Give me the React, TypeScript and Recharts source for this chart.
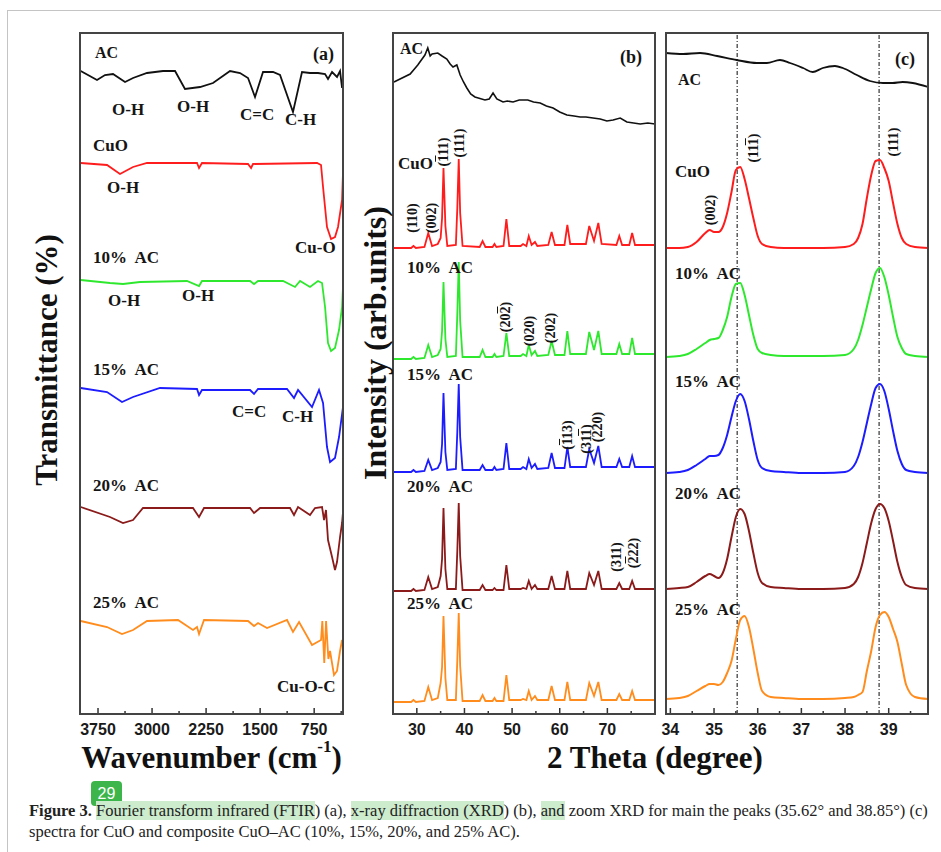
import React from "react";
import { LineChart, Line, XAxis, YAxis, ReferenceLine } from "recharts";

// ---------- panel (a): FTIR, [wavenumber, transmittance relative to trace baseline] ----------
const ftirAC = [[3990, 0], [3764, -9], [3653, -4], [3542, -3], [3375, -11], [3264, -7], [3070, -2], [2848, 0], [2681, 0], [2543, -18], [2334, -16], [2154, -12], [1918, 0], [1779, -2], [1668, -7], [1571, -26], [1460, -1], [1321, -1], [1224, -4], [1044, -41], [919, -1], [808, -2], [697, -2], [599, -3], [558, -8], [502, -1], [433, -6], [391, 0], [363, -17]];
const ftirCuO = [[3990, 0], [3625, -2], [3445, -11], [3264, -4], [3070, 0], [2376, 0], [2348, -5], [2307, 0], [1668, -1], [1626, -5], [1599, -1], [710, 0], [655, -2], [627, -24], [572, -64], [516, -76], [461, -74], [419, -64], [363, -37], [350, -10]];
const ftir10 = [[3990, 0], [3584, -3], [3403, -4], [3167, -2], [2515, -1], [2348, -6], [2307, -1], [1640, -1], [1585, -4], [1529, -1], [1182, -1], [1016, -7], [946, -1], [808, -7], [697, -1], [641, -3], [599, -27], [558, -63], [516, -71], [461, -68], [405, -50], [363, -27], [350, -7]];
const ftir15 = [[3990, 0], [3625, -4], [3417, -14], [3264, -9], [2890, 0], [2376, -1], [2348, -7], [2307, -2], [1640, -2], [1585, -6], [1529, -1], [1127, -1], [1030, -10], [974, -2], [780, -19], [683, -2], [627, -15], [572, -59], [530, -74], [461, -70], [405, -49], [350, -19]];
const ftir20 = [[3990, 0], [3584, -10], [3403, -16], [3264, -13], [3126, -1], [2432, -1], [2348, -10], [2279, -1], [1640, -1], [1585, -6], [1501, -1], [1085, -1], [1030, -8], [974, 0], [808, -8], [738, -1], [641, 0], [613, -13], [586, -3], [558, -33], [502, -50], [461, -63], [433, -55], [391, -30], [363, -16], [350, -5]];
const ftir25 = [[3990, 0], [3625, -6], [3417, -13], [3264, -9], [3070, 0], [2640, 1], [2432, -9], [2376, -6], [2348, -13], [2279, 1], [1668, 0], [1585, -5], [1529, -2], [1404, -7], [1127, 1], [1044, -11], [960, -1], [780, -24], [655, -19], [637, 0], [610, -42], [585, 0], [553, -38], [530, -30], [475, -54], [433, -50], [391, -30], [363, -19]];
const ftirOffsets = [643, 551, 434, 326, 207, 93];
const ftirTicks = [3750, 3375, 3000, 2625, 2250, 1875, 1500, 1125, 750, 375];
const ftirMajor = [3750, 3000, 2250, 1500, 750];

// ---------- panel (b): XRD ----------
const xrdAC = [[25.2, 42], [28.6, 50], [30.2, 59], [31.7, 69], [32.3, 76], [32.8, 68], [33.2, 70], [34.4, 71], [35.3, 68], [36.3, 65], [37.0, 60], [37.6, 57], [38.4, 59], [39.1, 49], [39.8, 42], [40.5, 36], [41.3, 30], [42.2, 27], [44.3, 24], [45.2, 25], [46.0, 31], [46.8, 25], [48.1, 22], [49.0, 23], [50.2, 22], [51.5, 24], [53.3, 24], [54.5, 22], [55.9, 21], [57.2, 18], [58.6, 16], [60.0, 12], [61.5, 9], [63.0, 8], [64.3, 7], [65.5, 7], [67.0, 6], [68.5, 5], [69.9, 3], [71.2, 4], [72.7, 6], [74.1, 2], [75.5, 1], [76.9, 0], [78.5, 1], [80, 0]];
const xrdAngles = [25, 28.8, 29.3, 29.8, 31.6, 32.4, 33.2, 34.4, 35.0, 35.3, 35.6, 36.0, 36.4, 38.2, 38.5, 38.8, 39.1, 39.6, 43.2, 43.8, 44.4, 45.9, 46.3, 46.7, 48.2, 48.8, 49.4, 51.8, 52.3, 53.0, 53.5, 54.1, 54.8, 55.3, 57.6, 58.3, 59.0, 61.0, 61.6, 62.2, 65.5, 66.2, 67.2, 68.1, 68.8, 71.9, 72.5, 73.1, 74.6, 75.2, 75.8, 80];
const xrdCuO = [0, 0, 2, 0, 1, 15, 2, 4, 10, 30, 80, 22, 2, 3, 40, 89, 35, 2, 1, 7, 1, 1, 4, 1, 2, 29, 2, 2, 4, 2, 12, 3, 6, 2, 3, 16, 3, 3, 23, 4, 4, 22, 7, 25, 4, 3, 12, 3, 3, 15, 3, 3];
const xrd10 = [0, 0, 2, 0, 1, 14, 2, 4, 10, 28, 77, 20, 2, 3, 45, 97, 38, 2, 2, 9, 2, 2, 5, 2, 3, 26, 3, 3, 5, 3, 14, 4, 8, 3, 4, 18, 4, 4, 28, 5, 5, 27, 9, 28, 5, 5, 15, 5, 5, 21, 5, 5];
const xrd15 = [0, 0, 2, 0, 1, 12, 2, 4, 10, 28, 79, 20, 2, 3, 40, 88, 35, 2, 2, 7, 2, 2, 5, 2, 3, 29, 3, 3, 5, 3, 13, 4, 8, 3, 4, 19, 4, 4, 25, 5, 5, 23, 9, 26, 5, 5, 13, 5, 5, 16, 5, 5];
const xrd20 = [0, 0, 2, 0, 1, 14, 2, 4, 15, 32, 83, 22, 2, 2, 40, 88, 35, 1, 1, 6, 1, 1, 3, 1, 1, 26, 2, 2, 3, 2, 10, 2, 6, 2, 2, 15, 2, 2, 20, 2, 2, 18, 6, 20, 2, 2, 8, 2, 2, 10, 2, 2];
const xrd25 = [0, 0, 2, 0, 1, 15, 2, 4, 19, 35, 86, 24, 2, 2, 42, 89, 36, 1, 1, 7, 1, 1, 4, 1, 1, 27, 2, 2, 3, 2, 11, 2, 6, 2, 2, 16, 2, 2, 20, 2, 2, 19, 6, 20, 2, 2, 8, 2, 2, 11, 2, 2];
const xrdOffsets = [590, 466, 355, 242, 123, 12];
const xrdTicks = [30, 35, 40, 45, 50, 55, 60, 65, 70, 75];
const xrdMajor = [30, 40, 50, 60, 70];

// ---------- panel (c): zoomed XRD ----------
const zoomAC = [[33.9, 34], [34.29, 33], [34.68, 34], [35.07, 31], [35.52, 27], [35.98, 24], [36.21, 24], [36.51, 27], [36.74, 24], [37.04, 19], [37.26, 15], [37.49, 19], [37.77, 21], [37.95, 19], [38.27, 12], [38.57, 6], [38.87, 4], [39.09, 4], [39.32, 5], [39.55, 4], [39.9, 0]];
const zoomAngles = [33.9, 34.2, 34.4, 34.6, 34.8, 34.9, 35.0, 35.1, 35.2, 35.3, 35.4, 35.5, 35.6, 35.7, 35.8, 35.9, 36.0, 36.1, 36.3, 36.6, 37.0, 37.5, 38.0, 38.2, 38.3, 38.4, 38.5, 38.6, 38.7, 38.8, 38.9, 39.0, 39.1, 39.2, 39.3, 39.4, 39.6, 39.9];
const zoomCuO = [0, 0, 1, 6, 15, 18, 16, 16, 21, 35, 56, 78, 81, 69, 50, 30, 12, 4, 1, 0, 0, 0, 1, 4, 10, 24, 50, 73, 87, 88, 80, 67, 45, 24, 10, 4, 1, 0];
const zoom10 = [0, 1, 3, 8, 14, 17, 18, 19, 27, 40, 60, 73, 74, 62, 42, 22, 8, 4, 2, 1, 1, 1, 2, 8, 17, 32, 50, 68, 84, 89, 80, 62, 40, 20, 9, 3, 1, 0];
const zoom15 = [0, 1, 3, 8, 14, 17, 17, 18, 25, 38, 56, 72, 79, 72, 54, 32, 13, 5, 2, 1, 0, 0, 1, 7, 16, 31, 50, 69, 85, 89, 82, 64, 42, 22, 9, 3, 1, 0];
const zoom20 = [0, 1, 2, 7, 13, 15, 13, 11, 16, 30, 52, 72, 80, 75, 58, 36, 16, 6, 2, 1, 0, 0, 1, 5, 12, 26, 46, 66, 80, 85, 81, 68, 48, 27, 12, 4, 1, 0];
const zoom25 = [0, 1, 3, 8, 13, 15, 15, 14, 17, 26, 38, 60, 79, 83, 72, 50, 26, 8, 2, 1, 0, 0, 1, 2, 4, 7, 28, 48, 72, 84, 87, 82, 70, 57, 35, 14, 2, 0];
const zoomOffsets = [627, 466, 357, 241, 125, 15];
const zoomTicks = [34, 34.5, 35, 35.5, 36, 36.5, 37, 37.5, 38, 38.5, 39, 39.5];
const zoomMajor = [34, 35, 36, 37, 38, 39];
const peakLines = [35.53, 38.78];

const colors = ["#111111", "#ff1c1c", "#2ee82e", "#1c1cff", "#8b1a1a", "#ff8c1c"];
const sampleKeys = ["cuo", "p10", "p15", "p20", "p25"];

const serif = '"Liberation Serif", "Times New Roman", serif';
const sans = '"Liberation Sans", Arial, sans-serif';

const ftirData = [ftirAC, ftirCuO, ftir10, ftir15, ftir20, ftir25].map((s, i) =>
  s.map(([x, v]) => ({ x, y: v + ftirOffsets[i] }))
);
const xrdSeries = [xrdCuO, xrd10, xrd15, xrd20, xrd25];
const xrdRows = xrdAngles.map((t, j) => {
  const row: any = { x: t };
  xrdSeries.forEach((s, i) => (row[sampleKeys[i]] = s[j] + xrdOffsets[i + 1]));
  return row;
});
const xrdACData = xrdAC.map(([x, v]) => ({ x, y: v + xrdOffsets[0] }));
const zoomSeries = [zoomCuO, zoom10, zoom15, zoom20, zoom25];
const zoomRows = zoomAngles.map((t, j) => {
  const row: any = { x: t };
  zoomSeries.forEach((s, i) => (row[sampleKeys[i]] = s[j] + zoomOffsets[i + 1]));
  return row;
});
const zoomACData = zoomAC.map(([x, v]) => ({ x, y: v + zoomOffsets[0] }));

const TOP = 33;
const PH = 681;

// inward tick marks, labels only on the major ones
const makeTick = (majors: number[]) => (props: any) => {
  const { x, y, payload } = props;
  const major = majors.includes(payload.value);
  return (
    <g>
      <line x1={x} x2={x} y1={y} y2={y - (major ? 6 : 3)} stroke="#333" strokeWidth={1.5} />
      {major && (
        <text x={x} y={y + 21} textAnchor="middle" fontFamily={sans} fontWeight="bold" fontSize={16} fill="#1a1a1a">
          {payload.value}
        </text>
      )}
    </g>
  );
};

const Lbl = ({ x, cy, size = 17, children }: any) => (
  <div style={{ position: "absolute", left: x, top: cy - size * 0.5, fontSize: size, lineHeight: 1, fontWeight: "bold", fontFamily: serif, whiteSpace: "nowrap", color: "#151515" }}>
    {children}
  </div>
);

const RLbl = ({ cx, cy, size = 14, children }: any) => (
  <div style={{ position: "absolute", left: cx, top: cy, transform: "translate(-50%,-50%) rotate(-90deg)", fontSize: size, lineHeight: 1, fontWeight: "bold", fontFamily: serif, whiteSpace: "nowrap", color: "#151515" }}>
    {children}
  </div>
);

const Bar1 = ({ children }: any) => <span style={{ textDecoration: "overline" }}>{children}</span>;

const Box = ({ left, width }: any) => (
  <div style={{ position: "absolute", left: left - 1, top: TOP - 1, width: width + 2, height: PH + 2, border: "2px solid #444", boxSizing: "border-box", pointerEvents: "none" }} />
);

const hl = { background: "#cdeccd" };

export default function App() {
  return (
    <div style={{ position: "absolute", left: 0, top: 0, width: 941, height: 852, background: "#fff", overflow: "hidden" }}>
      <style>{`.recharts-surface{overflow:visible}`}</style>
      <div style={{ position: "absolute", left: 7, top: 10, width: 934, height: 842, borderTop: "1.5px solid #c4c4c4", borderLeft: "1.5px solid #c4c4c4" }} />

      {/* (a) FTIR */}
      <div style={{ position: "absolute", left: 80, top: TOP }}>
        <LineChart width={263} height={PH + 30} margin={{ top: 0, right: 0, bottom: 0, left: 0 }}>
          <XAxis type="number" dataKey="x" domain={[350, 4000]} reversed allowDataOverflow ticks={ftirTicks} interval={0} tickSize={0} tickMargin={0} axisLine={false} height={30} tick={makeTick(ftirMajor)} />
          <YAxis hide type="number" domain={[0, PH]} allowDataOverflow />
          {ftirData.map((d, i) => (
            <Line key={i} data={d} dataKey="y" type="linear" stroke={colors[i]} strokeWidth={1.8} dot={false} isAnimationActive={false} />
          ))}
        </LineChart>
      </div>
      <Box left={80} width={263} />

      {/* (b) XRD */}
      <div style={{ position: "absolute", left: 393, top: TOP }}>
        <LineChart width={262} height={PH + 30} data={xrdRows} margin={{ top: 0, right: 0, bottom: 0, left: 0 }}>
          <XAxis type="number" dataKey="x" domain={[25, 80]} allowDataOverflow ticks={xrdTicks} interval={0} tickSize={0} tickMargin={0} axisLine={false} height={30} tick={makeTick(xrdMajor)} />
          <YAxis hide type="number" domain={[0, PH]} allowDataOverflow />
          <Line data={xrdACData} dataKey="y" type="linear" stroke={colors[0]} strokeWidth={1.6} dot={false} isAnimationActive={false} />
          {sampleKeys.map((k, i) => (
            <Line key={k} dataKey={k} type="linear" stroke={colors[i + 1]} strokeWidth={1.8} dot={false} isAnimationActive={false} />
          ))}
        </LineChart>
      </div>
      <Box left={393} width={262} />

      {/* (c) zoom XRD */}
      <div style={{ position: "absolute", left: 666, top: TOP }}>
        <LineChart width={262} height={PH + 30} data={zoomRows} margin={{ top: 0, right: 0, bottom: 0, left: 0 }}>
          <XAxis type="number" dataKey="x" domain={[33.9, 39.9]} allowDataOverflow ticks={zoomTicks} interval={0} tickSize={0} tickMargin={0} axisLine={false} height={30} tick={makeTick(zoomMajor)} />
          <YAxis hide type="number" domain={[0, PH]} allowDataOverflow />
          {peakLines.map((p) => (
            <ReferenceLine key={p} x={p} stroke="#333" strokeWidth={1.2} strokeDasharray="4 2 1 2" />
          ))}
          <Line data={zoomACData} dataKey="y" type="monotone" stroke={colors[0]} strokeWidth={1.8} dot={false} isAnimationActive={false} />
          {sampleKeys.map((k, i) => (
            <Line key={k} dataKey={k} type="monotone" stroke={colors[i + 1]} strokeWidth={2} dot={false} isAnimationActive={false} />
          ))}
        </LineChart>
      </div>
      <Box left={666} width={262} />

      {/* panel (a) annotations */}
      <Lbl x={95} cy={53} size={16}>AC</Lbl>
      <Lbl x={313} cy={54} size={18}>(a)</Lbl>
      <Lbl x={112} cy={109}>O-H</Lbl>
      <Lbl x={177} cy={106}>O-H</Lbl>
      <Lbl x={240} cy={114}>C=C</Lbl>
      <Lbl x={285} cy={119}>C-H</Lbl>
      <Lbl x={93} cy={145}>CuO</Lbl>
      <Lbl x={107} cy={187}>O-H</Lbl>
      <Lbl x={295} cy={247}>Cu-O</Lbl>
      <Lbl x={93} cy={257}>10%&nbsp; AC</Lbl>
      <Lbl x={108} cy={300}>O-H</Lbl>
      <Lbl x={182} cy={295}>O-H</Lbl>
      <Lbl x={93} cy={369}>15%&nbsp; AC</Lbl>
      <Lbl x={232} cy={411}>C=C</Lbl>
      <Lbl x={282} cy={416}>C-H</Lbl>
      <Lbl x={93} cy={485}>20%&nbsp; AC</Lbl>
      <Lbl x={93} cy={602}>25%&nbsp; AC</Lbl>
      <Lbl x={277} cy={686}>Cu-O-C</Lbl>

      {/* panel (b) annotations */}
      <Lbl x={400} cy={49} size={16}>AC</Lbl>
      <Lbl x={620} cy={57} size={18}>(b)</Lbl>
      <Lbl x={398} cy={163}>CuO</Lbl>
      <Lbl x={407} cy={267}>10%&nbsp; AC</Lbl>
      <Lbl x={407} cy={374}>15%&nbsp; AC</Lbl>
      <Lbl x={407} cy={486}>20%&nbsp; AC</Lbl>
      <Lbl x={407} cy={603}>25%&nbsp; AC</Lbl>
      <RLbl cx={413} cy={218}>(110)</RLbl>
      <RLbl cx={432} cy={218}>(002)</RLbl>
      <RLbl cx={444} cy={152}>(<Bar1>1</Bar1>11)</RLbl>
      <RLbl cx={460} cy={143}>(111)</RLbl>
      <RLbl cx={506} cy={317}>(20<Bar1>2</Bar1>)</RLbl>
      <RLbl cx={530} cy={331}>(020)</RLbl>
      <RLbl cx={551} cy={328}>(202)</RLbl>
      <RLbl cx={568} cy={435}>(<Bar1>1</Bar1>13)</RLbl>
      <RLbl cx={587} cy={439}>(31<Bar1>1</Bar1>)</RLbl>
      <RLbl cx={598} cy={427}>(220)</RLbl>
      <RLbl cx={617} cy={557}>(311)</RLbl>
      <RLbl cx={634} cy={553}>(<Bar1>2</Bar1>22)</RLbl>

      {/* panel (c) annotations */}
      <Lbl x={678} cy={80} size={16}>AC</Lbl>
      <Lbl x={895} cy={59} size={18}>(c)</Lbl>
      <Lbl x={675} cy={171}>CuO</Lbl>
      <Lbl x={675} cy={273}>10%&nbsp; AC</Lbl>
      <Lbl x={675} cy={381}>15%&nbsp; AC</Lbl>
      <Lbl x={675} cy={493}>20%&nbsp; AC</Lbl>
      <Lbl x={675} cy={609}>25%&nbsp; AC</Lbl>
      <RLbl cx={711} cy={210}>(002)</RLbl>
      <RLbl cx={754} cy={148}>(11<Bar1>1</Bar1>)</RLbl>
      <RLbl cx={894} cy={142}>(111)</RLbl>

      {/* axis titles */}
      <div style={{ position: "absolute", left: 46, top: 360, transform: "translate(-50%,-50%) rotate(-90deg)", fontFamily: serif, fontWeight: "bold", fontSize: 31, lineHeight: 1, whiteSpace: "nowrap", color: "#111" }}>
        Transmittance (%)
      </div>
      <div style={{ position: "absolute", left: 375, top: 343, transform: "translate(-50%,-50%) rotate(-90deg)", fontFamily: serif, fontWeight: "bold", fontSize: 32, lineHeight: 1, whiteSpace: "nowrap", color: "#111" }}>
        Intensity (arb.units)
      </div>
      <div style={{ position: "absolute", left: 60, width: 303, top: 742, textAlign: "center", fontFamily: serif, fontWeight: "bold", fontSize: 31, lineHeight: 1, whiteSpace: "nowrap", color: "#111" }}>
        Wavenumber (cm<span style={{ fontSize: "0.55em", position: "relative", top: "-0.95em" }}>-1</span>)
      </div>
      <div style={{ position: "absolute", left: 505, width: 300, top: 742, textAlign: "center", fontFamily: serif, fontWeight: "bold", fontSize: 31, lineHeight: 1, whiteSpace: "nowrap", color: "#111" }}>
        2 Theta (degree)
      </div>

      {/* badge + caption */}
      <div style={{ position: "absolute", left: 91, top: 781, width: 31, height: 25, borderRadius: 4, background: "#3cb54a", color: "#fff", fontFamily: sans, fontSize: 16, lineHeight: "25px", textAlign: "center" }}>
        29
      </div>
      <div style={{ position: "absolute", left: 29, top: 800, fontFamily: serif, fontSize: 16.5, lineHeight: "21px", color: "#222", whiteSpace: "nowrap" }}>
        <b>Figure 3.</b> <span style={hl}>Fourier transform infrared (FTIR</span>) (a), <span style={hl}>x-ray diffraction (XRD</span>) (b), <span style={hl}>and</span> zoom XRD for main the peaks (35.62° and 38.85°) (c)
        <br />
        spectra for CuO and composite CuO–AC (10%, 15%, 20%, and 25% AC).
      </div>
    </div>
  );
}
